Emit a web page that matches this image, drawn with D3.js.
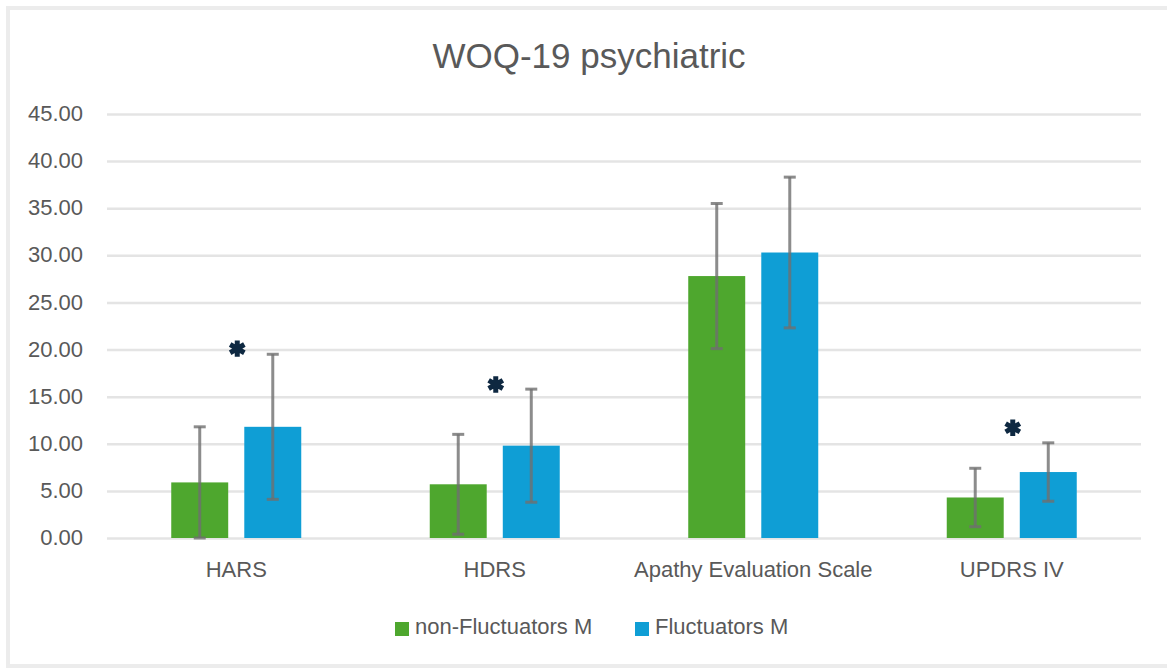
<!DOCTYPE html>
<html>
<head>
<meta charset="utf-8">
<script src="https://cdn.jsdelivr.net/npm/d3@7"></script>
<style>
  html, body { margin: 0; padding: 0; background: #ffffff; overflow: hidden; }
  svg { display: block; }
  text { font-family: "Liberation Sans", Arial, sans-serif; fill: #595959; }
</style>
</head>
<body>
<svg id="chart" width="1167" height="668"></svg>
<script>
// ---- data ----
const title = "WOQ-19 psychiatric";
const categories = ["HARS", "HDRS", "Apathy Evaluation Scale", "UPDRS IV"];
const seriesNames = ["non-Fluctuators M", "Fluctuators M"];
const nonFluctMean = [5.9, 5.7, 27.8, 4.3];
const nonFluctSD   = [5.9, 5.3, 7.7, 3.1];
const fluctMean    = [11.8, 9.8, 30.3, 7.0];
const fluctSD      = [7.7, 6.0, 8.0, 3.1];
const asteriskAt   = [20.1, 16.3, null, 11.7]; // y-value of significance marker
const yTicks = [0, 5, 10, 15, 20, 25, 30, 35, 40, 45];
const colors = ["#4EA72E", "#0F9ED5"];

// ---- layout ----
const svg = d3.select("#chart");
const W = 1167, H = 668;
const plot = { left: 107, right: 1141, top: 114, bottom: 538 };

// outer border: top, left, bottom edges only (right edge is off-picture)
const borderPath = d3.path();
borderPath.moveTo(W + 5, 8);
borderPath.lineTo(8, 8);
borderPath.lineTo(8, H - 2);
borderPath.lineTo(W + 5, H - 2);
svg.append("path").attr("d", borderPath.toString())
  .attr("fill", "none").attr("stroke", "#ececec").attr("stroke-width", 4);

const x0 = d3.scaleBand().domain(categories).range([plot.left, plot.right]);
const x1 = d3.scaleBand().domain(seriesNames).range([-65, 65]).paddingInner(0.22);
const y = d3.scaleLinear().domain([0, 45]).range([plot.bottom, plot.top]);

// title
svg.append("text")
  .attr("x", 589).attr("y", 68)
  .attr("text-anchor", "middle")
  .style("font-size", "35px")
  .text(title);

// gridlines + y axis labels
const yAxis = d3.axisLeft(y).tickValues(yTicks)
  .tickSize(-(plot.right - plot.left)).tickPadding(24)
  .tickFormat(d3.format(".2f"));
const gy = svg.append("g").attr("transform", `translate(${plot.left},0)`).call(yAxis);
gy.select(".domain").remove();
gy.selectAll(".tick line").attr("stroke", "#e4e4e4").attr("stroke-width", 2.5);
gy.selectAll(".tick text")
  .style("font-size", "22px").style("fill", "#595959")
  .attr("dy", "0.30em");

// x axis labels
const xAxis = d3.axisBottom(x0).tickSize(0).tickPadding(0);
const gx = svg.append("g").attr("transform", `translate(0,${plot.bottom})`).call(xAxis);
gx.select(".domain").remove();
gx.selectAll(".tick text")
  .style("font-size", "22px").style("fill", "#595959")
  .attr("dy", null).attr("y", 39);

// bars
const rows = categories.map((c, i) => ({
  cat: c,
  vals: [
    { s: seriesNames[0], m: nonFluctMean[i], sd: nonFluctSD[i], color: colors[0] },
    { s: seriesNames[1], m: fluctMean[i], sd: fluctSD[i], color: colors[1] }
  ],
  star: asteriskAt[i]
}));

const groups = svg.selectAll("g.grp").data(rows).join("g")
  .attr("class", "grp")
  .attr("transform", d => `translate(${x0(d.cat) + x0.bandwidth() / 2},0)`);

groups.selectAll("rect.bar").data(d => d.vals).join("rect")
  .attr("class", "bar")
  .attr("x", d => x1(d.s))
  .attr("width", x1.bandwidth())
  .attr("y", d => y(d.m))
  .attr("height", d => y(0) - y(d.m))
  .attr("fill", d => d.color);

// error bars
const capW = 12;
const eb = groups.selectAll("g.err").data(d => d.vals).join("g").attr("class", "err")
  .attr("stroke", "#6f6f6f").attr("stroke-opacity", 0.8).attr("stroke-width", 3);
eb.append("line")
  .attr("x1", d => x1(d.s) + x1.bandwidth() / 2).attr("x2", d => x1(d.s) + x1.bandwidth() / 2)
  .attr("y1", d => y(Math.max(0, d.m - d.sd))).attr("y2", d => y(d.m + d.sd));
eb.append("line")
  .attr("x1", d => x1(d.s) + x1.bandwidth() / 2 - capW / 2).attr("x2", d => x1(d.s) + x1.bandwidth() / 2 + capW / 2)
  .attr("y1", d => y(d.m + d.sd)).attr("y2", d => y(d.m + d.sd));
eb.append("line")
  .attr("x1", d => x1(d.s) + x1.bandwidth() / 2 - capW / 2).attr("x2", d => x1(d.s) + x1.bandwidth() / 2 + capW / 2)
  .attr("y1", d => y(Math.max(0, d.m - d.sd))).attr("y2", d => y(Math.max(0, d.m - d.sd)));

// asterisks
groups.filter(d => d.star != null).append("path")
  .attr("transform", d => `translate(1,${y(d.star)})`)
  .attr("d", d3.symbol(d3.symbolAsterisk, 190)())
  .attr("fill", "none")
  .attr("stroke", "#0E2841").attr("stroke-width", 5);

// legend
const legend = svg.append("g");
const legendItems = [
  { name: seriesNames[0], color: colors[0], x: 395 },
  { name: seriesNames[1], color: colors[1], x: 635 }
];
const li = legend.selectAll("g").data(legendItems).join("g")
  .attr("transform", d => `translate(${d.x},0)`);
li.append("rect").attr("x", 0).attr("y", 622).attr("width", 14).attr("height", 14)
  .attr("fill", d => d.color);
li.append("text").attr("x", 20).attr("y", 634)
  .style("font-size", "22px")
  .text(d => d.name);
</script>
</body>
</html>
